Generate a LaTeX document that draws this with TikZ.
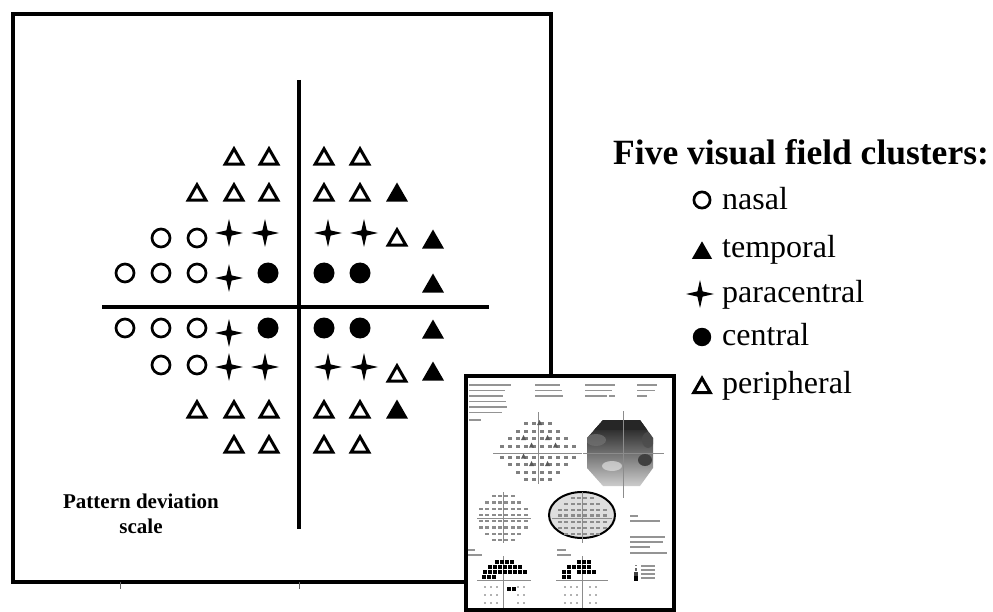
\documentclass[tikz,border=0pt]{standalone}
\usepackage{fontspec}
\setmainfont{Liberation Serif}
\begin{document}
\begin{tikzpicture}[x=1pt,y=-1pt]
\tikzset{
  otri/.pic={\draw[line width=3pt,line join=miter,miter limit=10] (0,-8.2) -- (8.8,7.1) -- (-8.8,7.1) -- cycle;},
  ftri/.pic={\fill (0,-10.5) -- (11,8.6) -- (-11,8.6) -- cycle;},
  ocirc/.pic={\draw[line width=2.7pt] (0,0) circle[radius=9];},
  fdot/.pic={\fill (0,0) circle[radius=10.5];},
  starx/.pic={\fill (0,-14) -- (2.6,-2.6) -- (14,0) -- (2.6,2.6) -- (0,14) -- (-2.6,2.6) -- (-14,0) -- (-2.6,-2.6) -- cycle;},
  axisline/.style={line width=3.2pt},
  frame/.style={line width=3.8pt},
  txt/.style={line width=1.5pt,black!42},
  thinax/.style={line width=0.6pt,black!45},
  sq/.style={fill=black},
  lbl/.style={anchor=base west,inner sep=0pt,font=\fontsize{32}{38}\selectfont},
}
\useasboundingbox (0,0) rectangle (993,612);
\fill[white] (0,0) rectangle (993,612);

% main frame
\draw[frame] (13,14) rectangle (551,582);
\draw[line width=0.8pt,black!60] (120,582) -- (120,589);
\draw[line width=0.8pt,black!60] (299,582) -- (299,589);

% axes
\coordinate (vt) at (299,80);
\coordinate (vb) at (299,529);
\coordinate (hl) at (102,307);
\coordinate (hr) at (489,307);
\draw[axisline] (vt) -- (vb);
\draw[axisline] (hl) -- (hr);

% row 1
\foreach \x in {234,269,324,360} \pic at (\x,157) {otri};
% row 2
\foreach \x in {197,234,269,324,360} \pic at (\x,193) {otri};
\pic at (397,193) {ftri};
% row 3
\foreach \x in {161,197} \pic at (\x,238) {ocirc};
\foreach \x in {229,265,328,364} \pic at (\x,233) {starx};
\pic at (397,238) {otri};
\pic at (433,240) {ftri};
% row 4
\foreach \x in {125,161,197} \pic at (\x,273) {ocirc};
\pic at (229,278) {starx};
\foreach \x in {268,324,360} \pic at (\x,273) {fdot};
\pic at (433,284) {ftri};
% row 5
\foreach \x in {125,161,197} \pic at (\x,328) {ocirc};
\pic at (229,333) {starx};
\foreach \x in {268,324,360} \pic at (\x,328) {fdot};
\pic at (433,330) {ftri};
% row 6
\foreach \x in {161,197} \pic at (\x,365) {ocirc};
\foreach \x in {229,265,328,364} \pic at (\x,367) {starx};
\pic at (397,374) {otri};
\pic at (433,372) {ftri};
% row 7
\foreach \x in {197,234,269,324,360} \pic at (\x,410) {otri};
\pic at (397,410) {ftri};
% row 8
\foreach \x in {234,269,324,360} \pic at (\x,445) {otri};

% label
\node[anchor=base,inner sep=0pt,font=\fontsize{21}{25}\selectfont\bfseries] (pd1) at (141,508) {Pattern deviation};
\node[anchor=base,inner sep=0pt,font=\fontsize{21}{25}\selectfont\bfseries] (pd2) at (141,533) {scale};

% legend
\node[anchor=base west,inner sep=0pt,font=\fontsize{35.5}{40}\selectfont\bfseries] (title) at (613,165) {Five visual field clusters:};
\pic[scale=0.9] at (702,200) {ocirc};
\node[lbl] (lnasal) at (722,210) {nasal};
\pic[scale=0.92] at (702,251) {ftri};
\node[lbl] (ltemp) at (722,258) {temporal};
\pic at (700,294) {starx};
\node[lbl] (lpara) at (722,302) {paracentral};
\pic[scale=0.88] at (702,337) {fdot};
\node[lbl] (lcent) at (722,345) {central};
\pic[scale=0.95] at (702,386) {otri};
\node[lbl] (lperi) at (722,393) {peripheral};

% inset printout
\fill[white] (466,376) rectangle (674,610);
% header text
\foreach \y/\w in {385/42,390.5/36,396/34,401.5/37,407/38,412.5/33} \draw[txt] (469,\y) -- ++(\w,0);
\draw[txt] (469,420) -- ++(12,0);
\foreach \y/\w in {385/25,390.5/27,396/28} \draw[txt] (535,\y) -- ++(\w,0);
\foreach \y/\w in {385/30,390.5/27,396/22} \draw[txt] (585,\y) -- ++(\w,0);
\draw[txt] (609,396) -- ++(6,0);
\foreach \y/\w in {385/20,390.5/18,396/10} \draw[txt] (637,\y) -- ++(\w,0);

% top-left numeric plot
\draw[thinax] (538,412) -- (538,484);
\draw[thinax] (493,453) -- (582,453);
\foreach \y/\n in {425/2,432.5/3,440/4,447.5/5,458.5/5,466/4,473.5/3,481/2}{
  \foreach \i in {1,...,\n}{
    \fill[black!50] ({538+8*\i-6},\y) rectangle ++(4,-3);
    \fill[black!50] ({538-8*\i+2},\y) rectangle ++(4,-3);
  }
}
\foreach \x/\y in {521/440,529/447.5,545/440,553/447.5,529/466,545/466,537/425,521/458.5}
  \fill[black!65] (\x,\y) -- ++(2.5,-5) -- ++(2.5,5) -- cycle;

% grayscale map
\begin{scope}
\clip (603,420) -- (640,420) -- (653,438) -- (653,468) -- (640,486) -- (603,486) -- (587,468) -- (587,438) -- cycle;
\shade[top color=black!92,middle color=black!30,bottom color=black!20] (587,420) rectangle (653,486);
\fill[black!85] (587,420) rectangle (653,430);
\fill[black!55,opacity=0.7] (596,440) ellipse (10 and 6);
\fill[black!75] (645,460) ellipse (7 and 6);
\fill[black!70,opacity=0.8] (648,440) ellipse (6 and 8);
\fill[black!8,opacity=0.6] (612,466) ellipse (10 and 5);
\end{scope}
\draw[thinax] (623,411) -- (623,498);
\draw[thinax] (583,453) -- (664,453);

% total deviation numeric
\draw[thinax] (503,492) -- (503,543);
\draw[thinax] (477,518) -- (531,518);
\foreach \y/\n in {497/2,503.5/3,510/4,516/4,522/4,528.5/4,535/3,541/2}{
  \foreach \i in {1,...,\n}{
    \fill[black!45] ({503+6.5*\i-5.5},\y) rectangle ++(4,-2.5);
    \fill[black!45] ({503-6.5*\i+1.5},\y) rectangle ++(4,-2.5);
  }
}

% pattern deviation numeric with ellipse
\filldraw[fill=black!13,draw=black,line width=2pt] (582,515) ellipse (33 and 23);
\draw[thinax] (582,492) -- (582,543);
\draw[thinax] (552,518) -- (612,518);
\foreach \y/\n in {499/2,505/3,511/4,516.5/4,523/4,529/4,535/3}{
  \foreach \i in {1,...,\n}{
    \fill[black!45] ({582+6.5*\i-5.5},\y) rectangle ++(4,-2.5);
    \fill[black!45] ({582-6.5*\i+1.5},\y) rectangle ++(4,-2.5);
  }
}

% right text
\draw[txt] (630,516) -- ++(8,0);
\draw[txt] (630,521) -- ++(30,0);
\foreach \y/\w in {537/35,542/33,547/20,553/37} \draw[txt] (630,\y) -- ++(\w,0);
\fill[black!50] (635,564.5) rectangle ++(1.5,1.5);
\fill[black!60] (634.5,568) rectangle ++(2.5,2.5);
\fill[black!75] (634,572) rectangle ++(3.5,3.5);
\fill[black] (633.5,576) rectangle ++(4.5,4.5);
\foreach \y in {566,570,574,578} \draw[txt,line width=1.2pt] (641,\y) -- ++(14,0);

% section labels
\draw[txt] (468,550) -- ++(7,0);
\draw[txt] (468,555) -- ++(14,0);
\draw[txt] (557,550) -- ++(9,0);
\draw[txt] (557,555) -- ++(14,0);

% probability plots
\draw[thinax] (503,556) -- (503,610);
\draw[thinax] (477,580) -- (531,580);
\draw[thinax] (582,556) -- (582,610);
\draw[thinax] (556,580) -- (608,580);
\foreach \x in {495,500,505,510} \fill[sq] (\x,560) rectangle ++(3.6,3.6);
\foreach \x in {488,493,498,503,508,513,518} \fill[sq] (\x,565) rectangle ++(3.6,3.6);
\foreach \x in {483,488,493,498,503,508,513,518,523} \fill[sq] (\x,570) rectangle ++(3.6,3.6);
\foreach \x in {482,487,492} \fill[sq] (\x,575) rectangle ++(3.6,3.6);
\foreach \x in {507,512} \fill[sq] (\x,587) rectangle ++(3.6,3.6);
\foreach \x in {577,582,587} \fill[sq] (\x,560) rectangle ++(3.6,3.6);
\foreach \x in {567,572,577,582,587} \fill[sq] (\x,565) rectangle ++(3.6,3.6);
\foreach \x in {562,567,577,582,587,592} \fill[sq] (\x,570) rectangle ++(3.6,3.6);
\foreach \x in {562,567} \fill[sq] (\x,575) rectangle ++(3.6,3.6);
\foreach \y in {586,594,602} {
  \foreach \x in {484,490,496,517,523} \fill[black!30] (\x,\y) rectangle ++(2,2);
  \foreach \x in {564,570,576,589,595} \fill[black!30] (\x,\y) rectangle ++(2,2);
}

\draw[line width=3.5pt] (466,376) rectangle (674,610);
\end{tikzpicture}
\end{document}
